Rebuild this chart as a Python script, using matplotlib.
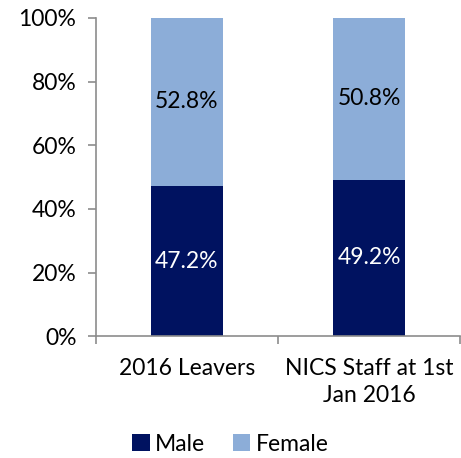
import numpy as np
from matplotlib import pyplot as plt

categories = ["2016 Leavers", "NICS Staff at 1st\nJan 2016"]
male = [47.2, 49.2]
female = [52.8, 50.8]

MALE_COL = "#001260"
FEMALE_COL = "#8CADD8"
GREY = "#8c8c8c"

plt.rcParams['font.family'] = ['Lato', 'DejaVu Sans']

fig = plt.figure(figsize=(4.61, 4.58), dpi=100)
ax = fig.add_axes([0.208, 0.266, 0.79, 0.695])

x = np.arange(len(categories))
b1 = ax.bar(x, male, width=0.4, color=MALE_COL, label="Male")
b2 = ax.bar(x, female, width=0.4, bottom=male, color=FEMALE_COL, label="Female")

for i in range(len(categories)):
    ax.text(x[i], male[i] / 2, "%.1f%%" % male[i], ha='center', va='center',
            color='white', fontsize=16.5)
    ax.text(x[i], male[i] + female[i] / 2, "%.1f%%" % female[i], ha='center',
            va='center', color='black', fontsize=16.5)

ax.set_xlim(-0.5, len(categories) - 0.5)
ax.set_ylim(0, 100)
ax.set_yticks(np.arange(0, 101, 20))
ax.set_yticklabels(["%d%%" % v for v in range(0, 101, 20)], fontsize=16.5)
ax.set_xticks(x)
ax.set_xticklabels(categories, fontsize=16.5, linespacing=1.35)
ax.set_xticks(np.arange(-0.5, len(categories), 1), minor=True)
ax.tick_params(axis='x', which='major', length=0, pad=16)
ax.tick_params(axis='x', which='minor', length=6, color=GREY, width=1.2)
ax.tick_params(axis='y', length=6, color=GREY, width=1.2, pad=8)

for s in ['top', 'right']:
    ax.spines[s].set_visible(False)
for s in ['left', 'bottom']:
    ax.spines[s].set_color(GREY)
    ax.spines[s].set_linewidth(1.2)

fig.legend(handles=[b1, b2], loc='center', bbox_to_anchor=(0.5, 0.03),
           ncol=2, frameon=False, fontsize=16.5, handlelength=0.75,
           handleheight=0.75, handletextpad=0.25, columnspacing=1.2)

fig.savefig("out.png", dpi=100)
